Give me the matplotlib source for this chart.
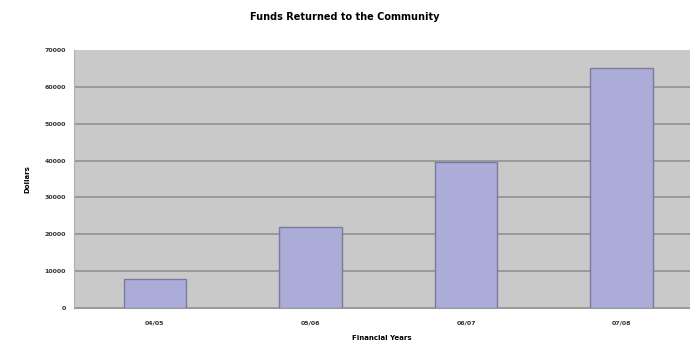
import matplotlib
matplotlib.use("Agg")
import matplotlib.pyplot as plt

years = ["04/05", "05/06", "06/07", "07/08"]
dollars = [8000, 22000, 39500, 65000]
yticks = [0, 10000, 20000, 30000, 40000, 50000, 60000, 70000]

fig = plt.figure(figsize=(6.9, 3.44), dpi=100)
ax = fig.add_axes([74/690, 36/344, 616/690, 258/344])
ax.set_facecolor("#c9c9c9")

ax.bar(range(len(years)), dollars, width=0.4, color="#acacd8",
       edgecolor="#7a7aa0", linewidth=1, zorder=3)

ax.set_ylim(0, 70000)
ax.set_xlim(-0.52, 3.44)
ax.set_yticks(yticks)
ax.set_yticklabels([str(t) for t in yticks], fontsize=4.5, fontweight="bold", color="#333333")
ax.set_xticks(range(len(years)))
ax.set_xticklabels(years, fontsize=4.5, fontweight="bold", color="#333333")
ax.yaxis.grid(True, color="#8e8e8e", linewidth=1.1, zorder=1)
ax.get_ygridlines()[-1].set_visible(False)
ax.tick_params(axis="x", length=0, pad=9)
ax.tick_params(axis="y", length=0, pad=6)
for s in ["top", "right"]:
    ax.spines[s].set_visible(False)
ax.spines["left"].set_color("#b0b0b0")
ax.spines["bottom"].set_color("#9a9a9a")

ax.set_ylabel("Dollars", fontsize=5, fontweight="bold", labelpad=10)
ax.set_xlabel("Financial Years", fontsize=5, fontweight="bold", labelpad=7)
fig.suptitle("Funds Returned to the Community", fontsize=7, fontweight="bold", y=0.965)

fig.savefig("out.png", dpi=100)
